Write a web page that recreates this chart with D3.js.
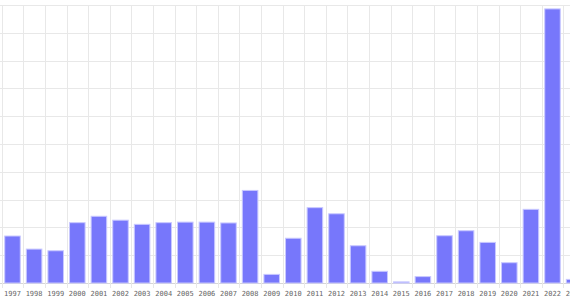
<!DOCTYPE html>
<html>
<head>
<meta charset="utf-8">
<script src="https://cdn.jsdelivr.net/npm/d3@7"></script>
<style>
  html, body { margin:0; padding:0; background:#fff; overflow:hidden; }
  svg { display:block; }
</style>
</head>
<body>
<svg id="chart_svg" width="570" height="300"></svg>
<script>
// data
const years = ["1997","1998","1999","2000","2001","2002","2003","2004","2005","2006",
  "2007","2008","2009","2010","2011","2012","2013","2014","2015","2016",
  "2017","2018","2019","2020","2021","2022","2023"];
const values = [16.9, 12.2, 11.6, 21.7, 24.0, 22.6, 21.1, 21.7, 21.9, 21.9,
  21.6, 33.3, 3.1, 16.1, 27.1, 24.9, 13.4, 4.2, 0.4, 2.3,
  17.0, 18.8, 14.6, 7.3, 26.5, 98.6, 1.3];
const yTicks = [0,10,20,30,40,50,60,70,80,90,100];

const svg = d3.select("#chart_svg");
const margin = {top:5, left:1.7, bottom:17};
const bandW = 21.6;
const plotH = 300 - margin.top - margin.bottom;

// chart runs past the right edge, 2023 gets clipped
const x = d3.scaleBand()
  .domain(years)
  .range([margin.left, margin.left + bandW * years.length])
  .paddingInner(0.28)
  .paddingOuter(0.14);

const y = d3.scaleLinear()
  .domain([0, 100])
  .range([margin.top + plotH, margin.top]);

const grid = svg.append("g");

// horizontal grid
grid.selectAll("line.h")
  .data(yTicks)
  .join("line")
  .attr("class","h")
  .attr("x1", 0)
  .attr("x2", 570)
  .attr("y1", d => Math.round(y(d)) + 0.5)
  .attr("y2", d => Math.round(y(d)) + 0.5)
  .attr("stroke", d => d === 0 ? "#d6d6d6" : "#e8e8e8")
  .attr("stroke-width", 1);

// vertical grid on band edges, with small ticks under the baseline
const edges = d3.range(years.length + 1).map(i => margin.left + i * bandW);
grid.selectAll("line.v")
  .data(edges)
  .join("line")
  .attr("class","v")
  .attr("x1", d => Math.round(d) + 0.5)
  .attr("x2", d => Math.round(d) + 0.5)
  .attr("y1", margin.top)
  .attr("y2", y(0) + 5)
  .attr("stroke", "#e8e8e8")
  .attr("stroke-width", 1);

svg.append("g")
  .selectAll("rect")
  .data(years.map((yr, i) => ({year:yr, value:values[i]})))
  .join("rect")
  .attr("x", d => x(d.year))
  .attr("width", x.bandwidth())
  .attr("y", d => y(d.value))
  .attr("height", d => y(0) - y(d.value))
  .attr("fill", "#7777fb")
  .attr("stroke", "#c8c8ff")
  .attr("stroke-width", 1);

// 2023 label is cut by the right edge in the reference too
svg.append("g")
  .selectAll("text")
  .data(years)
  .join("text")
  .attr("x", d => x(d) + x.bandwidth() / 2)
  .attr("y", 294)
  .attr("dy", "0.35em")
  .attr("text-anchor", "middle")
  .style("font-family", "'DejaVu Sans Mono', monospace")
  .style("font-size", "7px")
  .attr("fill", "#666")
  .text(d => d);
</script>
</body>
</html>
